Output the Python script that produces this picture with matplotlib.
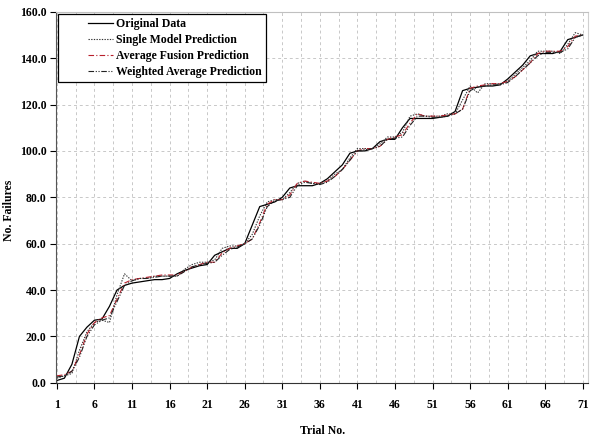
import numpy as np
import matplotlib.pyplot as plt
from matplotlib.legend_handler import HandlerLine2D

# ------ data ------ #
trial = np.arange(1, 72)

original = [1, 2, 8, 20, 24, 27, 27.5, 33, 40, 42,
            43, 43.5, 44, 44.5, 44.5, 45, 47, 48.5, 49.5, 50.5,
            51, 55, 56.5, 58, 58, 60, 68, 76, 77, 78,
            80, 84, 85, 85, 85, 86, 88, 91, 94, 99,
            100, 100, 101, 104, 105, 105, 110, 114, 114, 114,
            114, 114.5, 115, 117, 126, 127, 127.5, 128, 128, 128.5,
            131, 134, 137, 141, 142, 142, 142, 143, 148, 149, 150]

single = [2, 3, 4, 14, 22, 26, 27, 26, 38, 47,
          44, 45, 45, 46, 46, 46, 46, 49, 51, 52,
          52, 53, 58, 59, 59, 60, 64, 72, 78, 79,
          79, 82, 86, 87, 86, 86, 87, 90, 92, 97,
          101, 101, 101, 103, 106, 106, 108, 115, 116, 115,
          115, 115, 116, 116, 122, 128, 125, 129, 129, 129,
          130, 133, 136, 139, 143, 143, 143, 142, 146, 151, 150]

avg_fusion = [3, 3.5, 5, 12, 21, 26, 28, 29, 36, 43,
              44.5, 45, 45.5, 46, 46.5, 46.5, 46.5, 48, 50, 51,
              52, 52, 56, 58, 59, 60, 62, 69, 77, 79,
              79, 81, 86, 87, 86.5, 86, 87, 89, 92, 96,
              100, 101, 101, 102, 105, 106, 107, 112, 116, 115,
              115, 115, 115.5, 116, 118, 127, 128, 128.5, 129, 129,
              130, 132, 135, 138, 142, 143, 143, 143, 145, 149.5, 150]

weighted = [2.5, 3, 5, 11, 20, 25, 27, 28, 35, 42,
            44, 45, 45, 45.5, 46, 46, 46, 48, 50, 51,
            51.5, 52, 55, 57.5, 58.5, 60, 62, 68, 76, 78.5,
            79, 80, 85, 86.5, 86, 85.5, 86.5, 89, 92, 96,
            100, 100.5, 101, 102, 105, 105.5, 106, 111, 115, 115,
            114.5, 114.5, 115, 116, 118, 126, 127.5, 128, 128.5, 128.5,
            129.5, 132, 135, 138, 141, 142.5, 142.5, 142.5, 144, 149, 150]

x_ticks = np.arange(1, 72, 5)
y_ticks = np.arange(0, 161, 20)
# --------------------------------------- #


class RightHandler(HandlerLine2D):
    # legend sample drawn only in the right part of the handle box
    def create_artists(self, legend, orig_handle, xdescent, ydescent,
                       width, height, fontsize, trans):
        arts = super().create_artists(legend, orig_handle, xdescent, ydescent,
                                      width, height, fontsize, trans)
        for a in arts:
            xd = np.asarray(a.get_xdata(), dtype=float)
            if len(xd) >= 2:
                x0 = xd[0] + 0.52 * (xd[-1] - xd[0])
                a.set_xdata(np.linspace(x0, xd[-1], len(xd)))
        return arts


plt.rcParams['font.family'] = 'Liberation Serif'
plt.rcParams['font.weight'] = 'bold'

fig = plt.figure(figsize=(5.91, 4.37), dpi=100)
ax = fig.add_axes([0.095, 0.124, 0.9, 0.849])

ax.plot(trial, original, color='black', linestyle='-', linewidth=0.9, label='Original Data')
ax.plot(trial, single, color='#333333', linestyle=(0, (1.2, 1.2)), linewidth=0.8,
        label='Single Model Prediction')
ax.plot(trial, avg_fusion, color='#b8202c', linestyle=(0, (5, 2, 1, 2)), linewidth=0.8,
        label='Average Fusion Prediction')
ax.plot(trial, weighted, color='#222222', linestyle=(0, (5, 1.5, 1, 1.5, 1, 1.5)), linewidth=0.8,
        label='Weighted Average Prediction')

ax.set_xlim(0.9, 71.7)
ax.set_ylim(0, 160)
ax.set_xticks(x_ticks)
ax.set_xticks(np.arange(3.5, 72, 5), minor=True)
ax.set_yticks(y_ticks)
ax.set_yticklabels([f'{v:.1f}' for v in y_ticks])

ax.tick_params(axis='both', which='major', direction='out', length=4, width=0.8,
               labelsize=8.5, colors='black')
ax.tick_params(axis='x', which='major', pad=8)
ax.tick_params(axis='y', which='major', pad=3)
ax.tick_params(axis='both', which='minor', length=0)
ax.grid(True, which='both', color='#c8c8c8', linestyle=(0, (3, 3)), linewidth=0.7)
ax.set_axisbelow(True)

ax.spines['left'].set_color('#555555')
ax.spines['bottom'].set_color('#333333')
ax.spines['top'].set_color('#c0c0c0')
ax.spines['right'].set_color('#d0d0d0')

ax.set_xlabel('Trial No.', fontsize=8.5, fontweight='bold')
ax.set_ylabel('No. Failures', fontsize=8.5, fontweight='bold')
ax.xaxis.set_label_coords(0.5, -0.115)
ax.yaxis.set_label_coords(-0.078, 0.466)

leg = ax.legend(loc='upper left', fontsize=8.5, frameon=True, fancybox=False,
                handlelength=4.3, borderaxespad=0.15, labelspacing=0.35,
                borderpad=0.35, handletextpad=0.3,
                handler_map={plt.Line2D: RightHandler()})
leg.get_frame().set_edgecolor('black')
leg.get_frame().set_linewidth(0.9)
leg.get_frame().set_alpha(1)
for t in leg.get_texts():
    t.set_fontweight('bold')

fig.savefig('out.png', dpi=100)
